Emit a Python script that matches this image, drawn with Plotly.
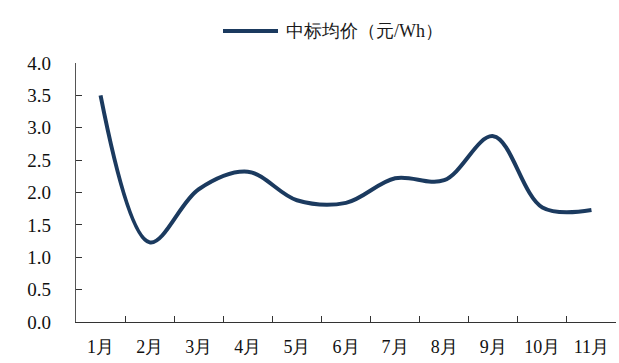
import plotly.graph_objects as go

# Monthly average winning bid price (yuan/Wh)
months = ["1月", "2月", "3月", "4月", "5月", "6月", "7月", "8月", "9月", "10月", "11月"]
avg_price = [3.50, 1.23, 2.05, 2.32, 1.88, 1.84, 2.22, 2.19, 2.87, 1.77, 1.73]
series_name = "中标均价（元/Wh）"
y_ticks = [0.0, 0.5, 1.0, 1.5, 2.0, 2.5, 3.0, 3.5, 4.0]

LINE_COLOR = "#1b3a5f"
FONT = "Liberation Serif"

W, H = 619, 363
M_L, M_R, M_T, M_B = 76, 3, 63, 41
plot_w = W - M_L - M_R
plot_h = H - M_T - M_B

fig = go.Figure()
fig.add_trace(go.Scatter(
    x=months,
    y=avg_price,
    mode="lines",
    name=series_name,
    line=dict(color=LINE_COLOR, width=4, shape="spline", smoothing=1.0),
    showlegend=False,
))

# Legend drawn by hand: long line sample followed by the series label
def px_x(p):
    return (p - M_L) / plot_w

def px_y(p):
    return (H - M_B - p) / plot_h

fig.add_shape(type="line", xref="paper", yref="paper",
              x0=px_x(223), x1=px_x(278), y0=px_y(31), y1=px_y(31),
              line=dict(color=LINE_COLOR, width=4))
fig.add_annotation(xref="paper", yref="paper", x=px_x(284), y=px_y(31),
                   xanchor="left", yanchor="middle", showarrow=False,
                   text=series_name, font=dict(family=FONT, size=18, color="#1a1a1a"))

fig.update_layout(
    width=W, height=H,
    margin=dict(l=M_L, r=M_R, t=M_T, b=M_B),
    paper_bgcolor="white", plot_bgcolor="white",
    font=dict(family=FONT, size=18, color="#111111"),
    xaxis=dict(
        type="category", range=[-0.5, len(months) - 0.5],
        tickson="boundaries", ticks="inside", ticklen=6, tickcolor="#333333",
        showline=True, linecolor="#333333", linewidth=1.3,
        showgrid=False, zeroline=False,
        tickfont=dict(family=FONT, size=18, color="#111111"),
        ticklabelstandoff=8,
    ),
    yaxis=dict(
        range=[0, 4.0], tickvals=y_ticks, ticktext=[f"{v:.1f}" for v in y_ticks],
        ticks="inside", ticklen=6, tickcolor="#333333",
        showline=True, linecolor="#555555", linewidth=1.3,
        showgrid=False, zeroline=False,
        tickfont=dict(family=FONT, size=19, color="#111111"),
        ticklabelstandoff=20,
    ),
)

fig.write_html("out.html")
